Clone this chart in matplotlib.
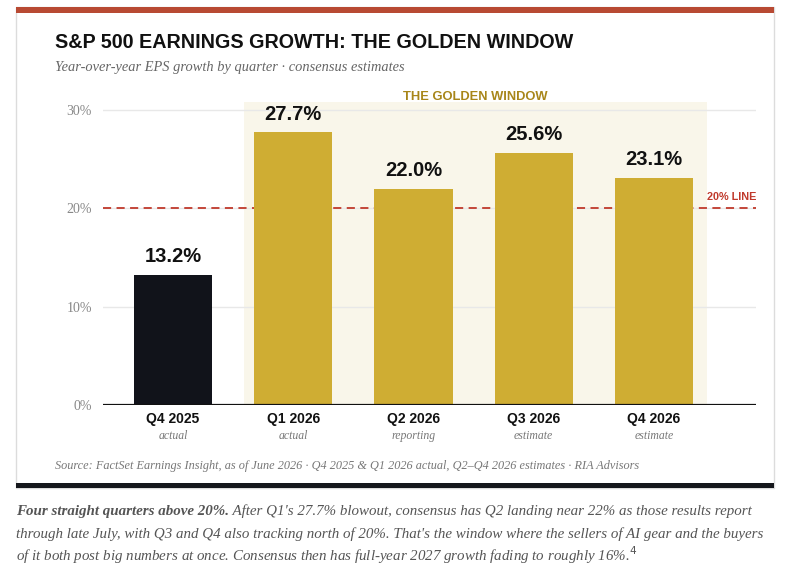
import matplotlib
matplotlib.use("Agg")
import matplotlib.pyplot as plt
from matplotlib.patches import Rectangle

# ---- data ----
quarters = ["Q4 2025", "Q1 2026", "Q2 2026", "Q3 2026", "Q4 2026"]
status = ["actual", "actual", "reporting", "estimate", "estimate"]
growth = [13.2, 27.7, 22.0, 25.6, 23.1]
in_window = [False, True, True, True, True]
yticks = [0, 10, 20, 30]
ytick_labels = ["0%", "10%", "20%", "30%"]
threshold = 20

W, H = 809, 567
fig = plt.figure(figsize=(W / 100, H / 100), dpi=100)
fig.patch.set_facecolor("white")

def fx(x):
    return x / W

def fy(y):
    return 1 - y / H

SANS = "Liberation Sans"
SERIF = "Liberation Serif"

# card
fig.add_artist(Rectangle((fx(16), fy(488)), fx(774) - fx(16), fy(7) - fy(488),
                         transform=fig.transFigure, facecolor="white",
                         edgecolor="#dcdcdc", lw=1.0, zorder=0))
fig.add_artist(Rectangle((fx(16), fy(13)), fx(774) - fx(16), fy(7) - fy(13),
                         transform=fig.transFigure, facecolor="#b84a33",
                         edgecolor="none", zorder=1))
fig.add_artist(Rectangle((fx(16), fy(488)), fx(774) - fx(16), fy(483) - fy(488),
                         transform=fig.transFigure, facecolor="#15171c",
                         edgecolor="none", zorder=1))

# titles
fig.text(fx(55), fy(43), "S&P 500 EARNINGS GROWTH: THE GOLDEN WINDOW",
         family=SANS, weight="bold", fontsize=14.2, color="#111111",
         va="center", ha="left")
fig.text(fx(55), fy(67), "Year-over-year EPS growth by quarter · consensus estimates",
         family=SERIF, style="italic", fontsize=10.4, color="#666666",
         va="center", ha="left")

# axes
ax = fig.add_axes([fx(103), fy(405), fx(756) - fx(103), fy(102) - fy(405)])
ax.set_facecolor("none")
x = list(range(len(quarters)))
ax.set_xlim(-0.583, 4.85)
ax.set_ylim(0, 30.8)

win_idx = [i for i, w in enumerate(in_window) if w]
ax.axvspan(min(win_idx) - 0.41, max(win_idx) + 0.44, color="#f9f6ea", zorder=0, lw=0)
ax.text((min(win_idx) - 0.41 + max(win_idx) + 0.44) / 2, 31.35, "THE GOLDEN WINDOW",
        ha="center", va="center", family=SANS, weight="bold", fontsize=9.3,
        color="#a8861a", clip_on=False)

for t in yticks[1:]:
    ax.axhline(t, color="#e8e8e8", lw=1, zorder=1)

colors = ["#cfad33" if w else "#11131a" for w in in_window]
bars = ax.bar(x, growth, width=0.65, color=colors, zorder=3)
for xi, v in zip(x, growth):
    ax.text(xi, v + 0.9, f"{v:.1f}%", ha="center", va="bottom", family=SANS,
            weight="bold", fontsize=14.5, color="#111111", zorder=4)

ax.axhline(threshold, color="#c0392b", lw=1.3, ls=(0, (4.5, 3)), zorder=2)
ax.text(4.85, threshold + 0.6, f"{threshold}% LINE", ha="right", va="bottom",
        family=SANS, weight="bold", fontsize=7.8, color="#c0392b", zorder=4)

ax.axhline(0, color="#111111", lw=1.6, zorder=5)

for s in ax.spines.values():
    s.set_visible(False)
ax.set_yticks(yticks)
ax.set_yticklabels(ytick_labels, family=SERIF, fontsize=10, color="#888888")
ax.tick_params(axis="y", length=0, pad=8)
ax.set_xticks(x)
ax.set_xticklabels([])
ax.tick_params(axis="x", length=0)

for xi, q, s in zip(x, quarters, status):
    ax.annotate(q, xy=(xi, 0), xycoords="data", xytext=(0, -14),
                textcoords="offset pixels", ha="center", va="center",
                family=SANS, weight="bold", fontsize=10, color="#111111",
                annotation_clip=False)
    ax.annotate(s, xy=(xi, 0), xycoords="data", xytext=(0, -31),
                textcoords="offset pixels", ha="center", va="center",
                family=SERIF, style="italic", fontsize=8.5, color="#777777",
                annotation_clip=False)

fig.text(fx(55), fy(466),
         "Source: FactSet Earnings Insight, as of June 2026 · Q4 2025 & Q1 2026 actual, "
         "Q2–Q4 2026 estimates · RIA Advisors",
         family=SERIF, style="italic", fontsize=8.8, color="#777777",
         va="center", ha="left")

# caption
cap_size = 10.8
t1 = fig.text(fx(16), fy(515), "Four straight quarters above 20%.", family=SERIF,
              style="italic", weight="bold", fontsize=cap_size, color="#555555",
              va="baseline", ha="left")
fig.add_artist(plt.Annotation(
    " After Q1's 27.7% blowout, consensus has Q2 landing near 22% as those results report",
    xy=(1, 0), xycoords=t1, xytext=(0, 0), textcoords="offset points",
    family=SERIF, style="italic", fontsize=cap_size, color="#555555",
    va="bottom", ha="left"))
fig.text(fx(16), fy(538),
         "through late July, with Q3 and Q4 also tracking north of 20%. That's the window where the sellers of AI gear and the buyers",
         family=SERIF, style="italic", fontsize=cap_size, color="#555555",
         va="baseline", ha="left")
fig.text(fx(16), fy(561),
         "of it both post big numbers at once. Consensus then has full-year 2027 growth fading to roughly 16%.$^{4}$",
         family=SERIF, style="italic", fontsize=cap_size, color="#555555",
         va="baseline", ha="left")

fig.savefig("out.png", dpi=100, facecolor="white")
